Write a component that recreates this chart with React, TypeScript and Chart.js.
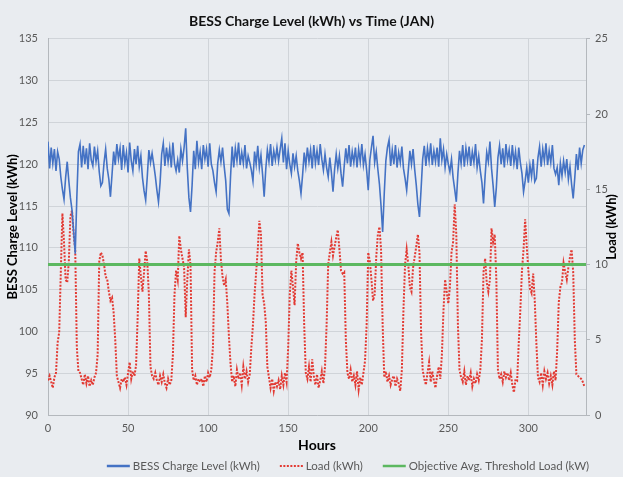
import React, { useEffect, useRef } from 'react';
import { Chart, registerables } from 'chart.js';

Chart.register(...registerables);

const TITLE = 'BESS Charge Level (kWh) vs Time (JAN)';
const X_TITLE = 'Hours';
const Y_LEFT_TITLE = 'BESS Charge Level (kWh)';
const Y_RIGHT_TITLE = 'Load (kWh)';
const SERIES_NAMES = ['BESS Charge Level (kWh)', 'Load (kWh)', 'Objective Avg. Threshold Load (kW)'];

const X_MIN = 0;
const X_MAX = 336;
const LEFT_MIN = 90;
const LEFT_MAX = 135;
const RIGHT_MIN = 0;
const RIGHT_MAX = 25;
const THRESHOLD = 10;

// BESS charge level (kWh), hourly, hour 0..335
const bessCharge = [
  122.7, 119.5, 122.0, 120.1, 121.8, 119.2, 121.5, 120.6, 118.5, 117.0, 115.8, 118.4,
  120.3, 118.0, 116.0, 114.5, 112.0, 109.3, 116.0, 121.5, 122.4, 119.6, 122.2, 120.0,
  121.9, 119.4, 122.5, 120.5, 119.8, 122.1, 120.3, 121.6, 119.1, 117.4, 117.8, 120.2,
  121.8, 119.5, 118.2, 116.1, 118.8, 121.5, 119.9, 122.4, 120.6, 121.9, 119.3, 122.3,
  120.1, 121.4, 119.0, 122.6, 120.4, 119.2, 121.8, 120.0, 122.2, 119.7, 121.0, 118.4,
  116.8, 115.7, 118.5, 121.7, 120.2, 121.3, 120.0, 118.6, 116.9, 115.5, 117.8, 121.2,
  122.5, 119.8, 122.0, 120.3, 121.9, 119.6, 122.6, 120.1, 119.2, 120.5, 119.0, 121.8,
  120.4, 122.0, 124.3, 119.5, 116.0, 114.3, 117.5, 121.6, 119.4, 122.8, 120.2, 121.5,
  119.4, 122.3, 120.6, 121.8, 119.7, 122.5, 120.0, 119.2, 117.8, 116.7, 120.1, 121.7,
  120.3, 122.0, 119.8, 118.0, 114.6, 114.1, 118.5, 122.1, 119.6, 121.9, 120.4, 122.6,
  119.9, 121.4, 120.1, 122.3, 119.5, 121.0, 120.2, 119.3, 118.0, 121.5, 120.0, 122.2,
  119.6, 121.1, 118.8, 116.1, 119.4, 121.7, 120.3, 122.4, 119.8, 121.6, 120.5, 122.0,
  120.4, 121.8, 123.1, 120.2, 122.5, 119.4, 121.6, 120.0, 118.9, 121.3, 119.7, 121.0,
  119.2, 118.0, 116.5, 118.7, 121.4, 119.8, 122.0, 120.3, 121.7, 119.5, 122.3, 120.1,
  121.6, 119.9, 122.4, 120.6, 119.3, 121.2, 119.6, 118.5, 120.8, 119.0, 116.7, 119.4,
  121.2, 119.5, 121.0, 118.9, 117.3, 119.8, 121.9, 120.1, 122.3, 119.7, 121.5, 120.2,
  122.0, 119.6, 121.8, 120.3, 122.4, 119.9, 121.2, 119.3, 116.9, 120.5, 122.0, 123.4,
  120.2, 121.5, 119.4, 117.6, 115.0, 111.9, 116.5, 120.4, 122.0, 122.9, 119.8, 121.7,
  120.0, 122.3, 119.6, 121.4, 120.2, 122.1, 119.5, 118.3, 116.9, 119.2, 121.6, 120.0,
  121.8, 119.4, 117.5, 115.2, 113.7, 117.0, 120.6, 122.2, 119.8, 121.9, 120.4, 122.5,
  119.9, 121.6, 120.3, 122.0, 119.7, 123.1, 120.5, 121.8, 119.6, 121.2, 120.0, 119.1,
  120.6, 118.4, 117.0, 115.5, 118.9, 121.6, 120.1, 122.3, 119.7, 121.9, 120.4, 122.1,
  119.8, 121.5, 120.2, 122.4, 119.6, 121.0, 119.2, 117.8, 115.3, 118.6, 121.4, 120.3,
  122.7, 119.5, 117.4, 114.9, 117.2, 120.8, 122.2, 120.0, 121.9, 119.6, 122.4, 120.5,
  121.7, 119.8, 122.3, 120.1, 121.5, 119.4, 122.0, 120.2, 118.9, 116.7, 118.0, 119.6,
  117.8, 119.9, 118.5, 120.6, 117.9, 118.3, 120.8, 122.1, 119.7, 121.8, 120.4, 122.5,
  119.9, 121.6, 120.2, 122.3, 119.5, 118.8, 119.6, 117.5, 120.1, 118.6, 120.4, 119.0,
  120.6, 118.2, 119.7, 117.6, 115.9, 118.4, 121.2, 119.3, 122.0, 120.1, 121.7, 122.3,
];

// Load (kWh), hourly, hour 0..335 (one row per day)
const load = [
  2.3, 2.6, 2.2, 1.8, 2.5, 2.8, 4.8, 5.5, 9.5, 13.4, 11.5, 9.0, 8.8, 10.2, 13.2, 13.6, 12.0, 11.0, 4.5, 2.9, 2.8, 2.4, 2.0, 2.7,
  2.1, 2.6, 1.9, 2.3, 2.0, 2.5, 2.8, 4.0, 10.2, 10.8, 10.6, 10.0, 9.2, 9.0, 8.2, 7.6, 7.8, 6.8, 5.0, 2.6, 2.2, 1.8, 2.4, 2.2,
  2.5, 2.0, 2.8, 3.5, 2.4, 2.9, 2.6, 3.3, 6.5, 10.4, 9.2, 8.2, 9.5, 10.9, 10.2, 8.0, 3.2, 2.6, 2.4, 2.8, 2.3, 2.0, 2.6, 2.2,
  2.7, 2.1, 1.8, 2.4, 2.0, 2.3, 4.0, 8.0, 9.6, 9.0, 11.9, 11.0, 10.4, 9.8, 6.5, 9.0, 11.0, 10.0, 3.0, 2.3, 2.6, 2.0, 2.4, 2.2,
  2.4, 1.9, 2.6, 2.2, 2.8, 2.5, 3.0, 4.5, 9.5, 10.8, 11.5, 12.4, 10.3, 9.2, 8.6, 9.0, 7.4, 5.2, 3.4, 2.2, 2.6, 1.9, 3.0, 2.4,
  2.8, 2.0, 3.2, 2.4, 2.9, 2.2, 2.7, 4.5, 6.0, 8.0, 9.5, 11.0, 12.9, 12.0, 8.0, 7.4, 6.2, 3.2, 2.5, 1.8, 2.4, 1.6, 2.2, 1.9,
  2.3, 1.7, 2.6, 2.0, 2.8, 2.2, 4.5, 8.0, 9.6, 8.5, 7.3, 10.2, 11.4, 10.8, 10.4, 10.8, 6.0, 2.8, 2.4, 3.2, 2.2, 3.7, 2.6, 2.0,
  2.7, 1.8, 2.3, 2.9, 2.1, 3.2, 6.0, 10.0, 10.8, 11.5, 10.6, 11.2, 11.8, 12.3, 11.0, 9.6, 9.4, 9.5, 5.0, 2.8, 2.4, 3.0, 2.2, 2.6,
  2.0, 2.9, 1.7, 2.5, 2.0, 2.8, 3.6, 6.0, 10.8, 10.2, 9.0, 7.6, 8.0, 10.5, 12.0, 12.5, 11.0, 6.0, 2.5, 2.9, 2.2, 2.6, 2.0, 2.4,
  2.6, 1.9, 2.4, 2.1, 1.6, 3.0, 7.0, 10.0, 11.0, 10.0, 8.5, 8.2, 9.8, 10.5, 11.2, 12.0, 10.8, 5.5, 3.0, 2.4, 2.0, 2.8, 3.5, 2.2,
  2.9, 2.3, 1.8, 2.6, 3.2, 2.4, 4.0, 7.0, 9.0, 8.2, 7.4, 8.5, 10.8, 11.5, 14.0, 12.0, 6.0, 3.0, 2.5, 2.2, 2.9, 2.0, 2.6, 2.3,
  2.8, 1.9, 2.4, 2.1, 2.7, 2.3, 3.0, 5.0, 9.5, 10.4, 8.8, 8.2, 9.0, 12.4, 11.5, 12.0, 9.0, 3.0, 2.4, 2.7, 2.2, 2.9, 2.5, 2.8,
  2.3, 2.8, 2.0, 1.5, 2.4, 2.3, 4.8, 7.0, 9.6, 11.0, 13.0, 11.2, 9.6, 8.4, 8.1, 9.4, 7.6, 4.8, 2.5, 2.2, 2.8, 2.0, 2.9, 2.4,
  2.8, 2.1, 2.6, 2.0, 2.9, 2.3, 4.3, 7.5, 8.5, 8.8, 10.1, 9.5, 9.0, 9.8, 10.5, 11.0, 9.5, 5.0, 2.7, 2.6, 2.5, 2.4, 2.2, 1.9,
];

const BG = '#e9ecf0';
const BLUE = '#4472c4';
const RED = '#e23a33';
const GREEN = '#5cb860';
const GRID = '#d0d4d9';
const AXIS = '#b4b8bd';
const TICK = '#595959';
const FONT = 'Lato';

const extrasPlugin = {
  id: 'extras',
  beforeDraw(chart: any) {
    const { ctx, width, height } = chart;
    ctx.save();
    ctx.fillStyle = BG;
    ctx.fillRect(0, 0, width, height);
    ctx.restore();
  },
  afterDraw(chart: any) {
    const { ctx, chartArea } = chart;
    // right axis title, reading bottom to top
    ctx.save();
    ctx.fillStyle = '#000';
    ctx.font = `bold 13px ${FONT}`;
    ctx.textAlign = 'center';
    ctx.textBaseline = 'middle';
    ctx.translate(chart.width - 11, (chartArea.top + chartArea.bottom) / 2);
    ctx.rotate(-Math.PI / 2);
    ctx.fillText(Y_RIGHT_TITLE, 0, 0);
    ctx.restore();

    // legend
    ctx.save();
    ctx.font = `11.5px ${FONT}`;
    ctx.textBaseline = 'middle';
    const ds = chart.data.datasets;
    const sampleW = 23;
    const sampleGap = 3;
    const itemGap = 20;
    const widths = ds.map((d: any) => sampleW + sampleGap + ctx.measureText(d.label).width);
    const total = widths.reduce((a: number, b: number) => a + b, 0) + itemGap * (ds.length - 1);
    let x = 348 - total / 2;
    const y = chart.height - 11;
    ds.forEach((d: any, i: number) => {
      ctx.save();
      ctx.strokeStyle = d.borderColor;
      ctx.lineWidth = d.label === SERIES_NAMES[1] ? 2 : 2.5;
      ctx.setLineDash(d.borderDash || []);
      ctx.beginPath();
      ctx.moveTo(x, y);
      ctx.lineTo(x + sampleW, y);
      ctx.stroke();
      ctx.restore();
      ctx.fillStyle = TICK;
      ctx.fillText(d.label, x + sampleW + sampleGap, y + 0.5);
      x += widths[i] + itemGap;
    });
    ctx.restore();
  },
};

export default function App() {
  const ref = useRef<HTMLCanvasElement | null>(null);

  useEffect(() => {
    if (!ref.current) return;
    const chart = new Chart(ref.current, {
      type: 'line',
      data: {
        datasets: [
          {
            label: SERIES_NAMES[0],
            data: bessCharge.map((v, i) => ({ x: i, y: v })),
            yAxisID: 'y',
            borderColor: BLUE,
            borderWidth: 1.6,
            pointRadius: 0,
            tension: 0,
            order: 1,
          },
          {
            label: SERIES_NAMES[1],
            data: load.map((v, i) => ({ x: i, y: v })),
            yAxisID: 'y1',
            borderColor: RED,
            borderWidth: 2,
            borderDash: [2, 1.5],
            pointRadius: 0,
            tension: 0,
            order: 2,
          },
          {
            label: SERIES_NAMES[2],
            data: [
              { x: X_MIN, y: THRESHOLD },
              { x: X_MAX, y: THRESHOLD },
            ],
            yAxisID: 'y1',
            borderColor: GREEN,
            borderWidth: 3,
            pointRadius: 0,
            order: 0,
          },
        ],
      },
      options: {
        responsive: false,
        animation: false,
        events: [],
        layout: { padding: { top: 0, bottom: 22, left: 0, right: 0 } },
        plugins: {
          legend: { display: false },
          tooltip: { enabled: false },
          title: {
            display: true,
            text: TITLE,
            color: '#111',
            font: { family: FONT, size: 14, weight: 'bold' },
            padding: { top: 13, bottom: 9 },
          },
        },
        scales: {
          x: {
            type: 'linear',
            min: X_MIN,
            max: X_MAX,
            ticks: {
              stepSize: 50,
              includeBounds: false,
              color: TICK,
              font: { family: FONT, size: 11 },
              padding: 7,
              maxRotation: 0,
            },
            grid: { color: GRID, drawTicks: false },
            border: { color: AXIS },
            title: {
              display: true,
              text: X_TITLE,
              color: '#000',
              font: { family: FONT, size: 14, weight: 'bold' },
              padding: { top: 0, bottom: 1 },
            },
            afterFit: (s: any) => {
              s.height = 40;
            },
          },
          y: {
            type: 'linear',
            position: 'left',
            min: LEFT_MIN,
            max: LEFT_MAX,
            ticks: {
              stepSize: 5,
              color: TICK,
              font: { family: FONT, size: 11 },
              padding: 10,
            },
            grid: { color: GRID, drawTicks: false },
            border: { color: AXIS },
            title: {
              display: true,
              text: Y_LEFT_TITLE,
              color: '#000',
              font: { family: FONT, size: 13, weight: 'bold' },
              padding: { top: 5, bottom: 0 },
            },
            afterFit: (s: any) => {
              s.width = 48;
            },
          },
          y1: {
            type: 'linear',
            position: 'right',
            min: RIGHT_MIN,
            max: RIGHT_MAX,
            ticks: {
              stepSize: 5,
              color: TICK,
              font: { family: FONT, size: 11 },
              padding: 5,
            },
            grid: { drawOnChartArea: false, drawTicks: true, tickLength: 4, color: AXIS },
            border: { color: AXIS },
            afterFit: (s: any) => {
              s.width = 37;
            },
          },
        },
      },
      plugins: [extrasPlugin],
    });
    return () => chart.destroy();
  }, []);

  return (
    <div style={{ position: 'fixed', left: 0, top: 0, width: 623, height: 477, background: BG }}>
      <canvas ref={ref} width={623} height={477} style={{ display: 'block' }} />
    </div>
  );
}
